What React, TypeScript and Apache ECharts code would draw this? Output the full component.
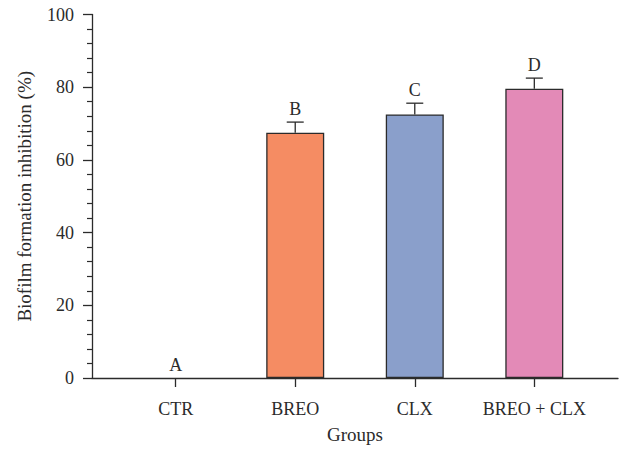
import React, { useEffect, useRef } from "react";
import * as echarts from "echarts";

const categories = ["CTR", "BREO", "CLX", "BREO + CLX"];
const positions = [1, 2, 3, 4];
const means = [0, 67.5, 72.5, 79.6];
const errors = [0, 2.9, 3.1, 2.9];
const letters = ["A", "B", "C", "D"];
const barColors = ["#ffffff", "#F58C63", "#8A9FCB", "#E38AB7"];
const yTicks = [0, 20, 40, 60, 80, 100];

const FONT = "'Liberation Serif', 'DejaVu Serif', serif";
const INK = "#2b2b2b";

export default function App() {
  const ref = useRef<HTMLDivElement>(null);
  useEffect(() => {
    if (!ref.current) return;
    const chart = echarts.init(ref.current, undefined, { renderer: "svg" });
    chart.setOption({
      animation: false,
      grid: { left: 92, right: 4, top: 14.5, bottom: 66 },
      xAxis: {
        type: "value",
        min: 0.3,
        max: 4.7,
        name: "Groups",
        nameLocation: "middle",
        nameGap: 47,
        nameTextStyle: { fontFamily: FONT, fontSize: 19, color: INK },
        axisLine: { show: true, onZero: false, lineStyle: { color: INK, width: 1.3 } },
        axisTick: { show: true, inside: false, length: 9, customValues: positions, lineStyle: { color: INK, width: 1.3 } },
        axisLabel: {
          customValues: positions,
          margin: 22,
          fontFamily: FONT,
          fontSize: 18,
          color: INK,
          formatter: (v: number) => categories[Math.round(v) - 1] ?? "",
        },
        splitLine: { show: false },
      },
      yAxis: {
        type: "value",
        min: 0,
        max: 100,
        interval: 20,
        name: "Biofilm formation inhibition (%)",
        nameLocation: "middle",
        nameGap: 58,
        nameTextStyle: { fontFamily: FONT, fontSize: 19, color: INK },
        axisLine: { show: true, lineStyle: { color: INK, width: 1.3 } },
        axisTick: { show: true, inside: false, length: 9, lineStyle: { color: INK, width: 1.3 } },
        minorTick: { show: true, splitNumber: 5, length: 5, lineStyle: { color: INK, width: 1.2 } },
        axisLabel: {
          margin: 18,
          fontFamily: FONT,
          fontSize: 18,
          color: INK,
          formatter: (v: number) => (yTicks.includes(v) ? String(v) : ""),
        },
        splitLine: { show: false },
      },
      series: [
        {
          type: "bar",
          barWidth: 58,
          data: positions.map((p, i) => ({
            value: [p, means[i]],
            itemStyle: {
              color: barColors[i],
              borderColor: INK,
              borderWidth: means[i] > 0 ? 1.3 : 0,
            },
          })),
          z: 2,
        },
        {
          type: "custom",
          z: 3,
          data: positions.map((p, i) => [p, means[i], means[i] + errors[i], i]),
          renderItem: (params: any, api: any) => {
            const x = api.value(0);
            const m = api.value(1);
            const hi = api.value(2);
            const idx = api.value(3);
            const base = api.coord([x, m]);
            const top = api.coord([x, hi]);
            const children: any[] = [];
            if (hi > m) {
              children.push({
                type: "line",
                shape: { x1: top[0], y1: base[1], x2: top[0], y2: top[1] },
                style: { stroke: INK, lineWidth: 1.3 },
              });
              children.push({
                type: "line",
                shape: { x1: top[0] - 8.5, y1: top[1], x2: top[0] + 8.5, y2: top[1] },
                style: { stroke: INK, lineWidth: 1.3 },
              });
            }
            children.push({
              type: "text",
              x: top[0],
              y: top[1] - 4,
              style: {
                text: letters[idx],
                fontFamily: FONT,
                fontSize: 18,
                fill: INK,
                align: "center",
                verticalAlign: "bottom",
              },
            });
            return { type: "group", children };
          },
        },
      ],
    });
    return () => chart.dispose();
  }, []);
  return (
    <div
      ref={ref}
      style={{ position: "absolute", left: 0, top: 0, width: 622, height: 449 }}
    />
  );
}
